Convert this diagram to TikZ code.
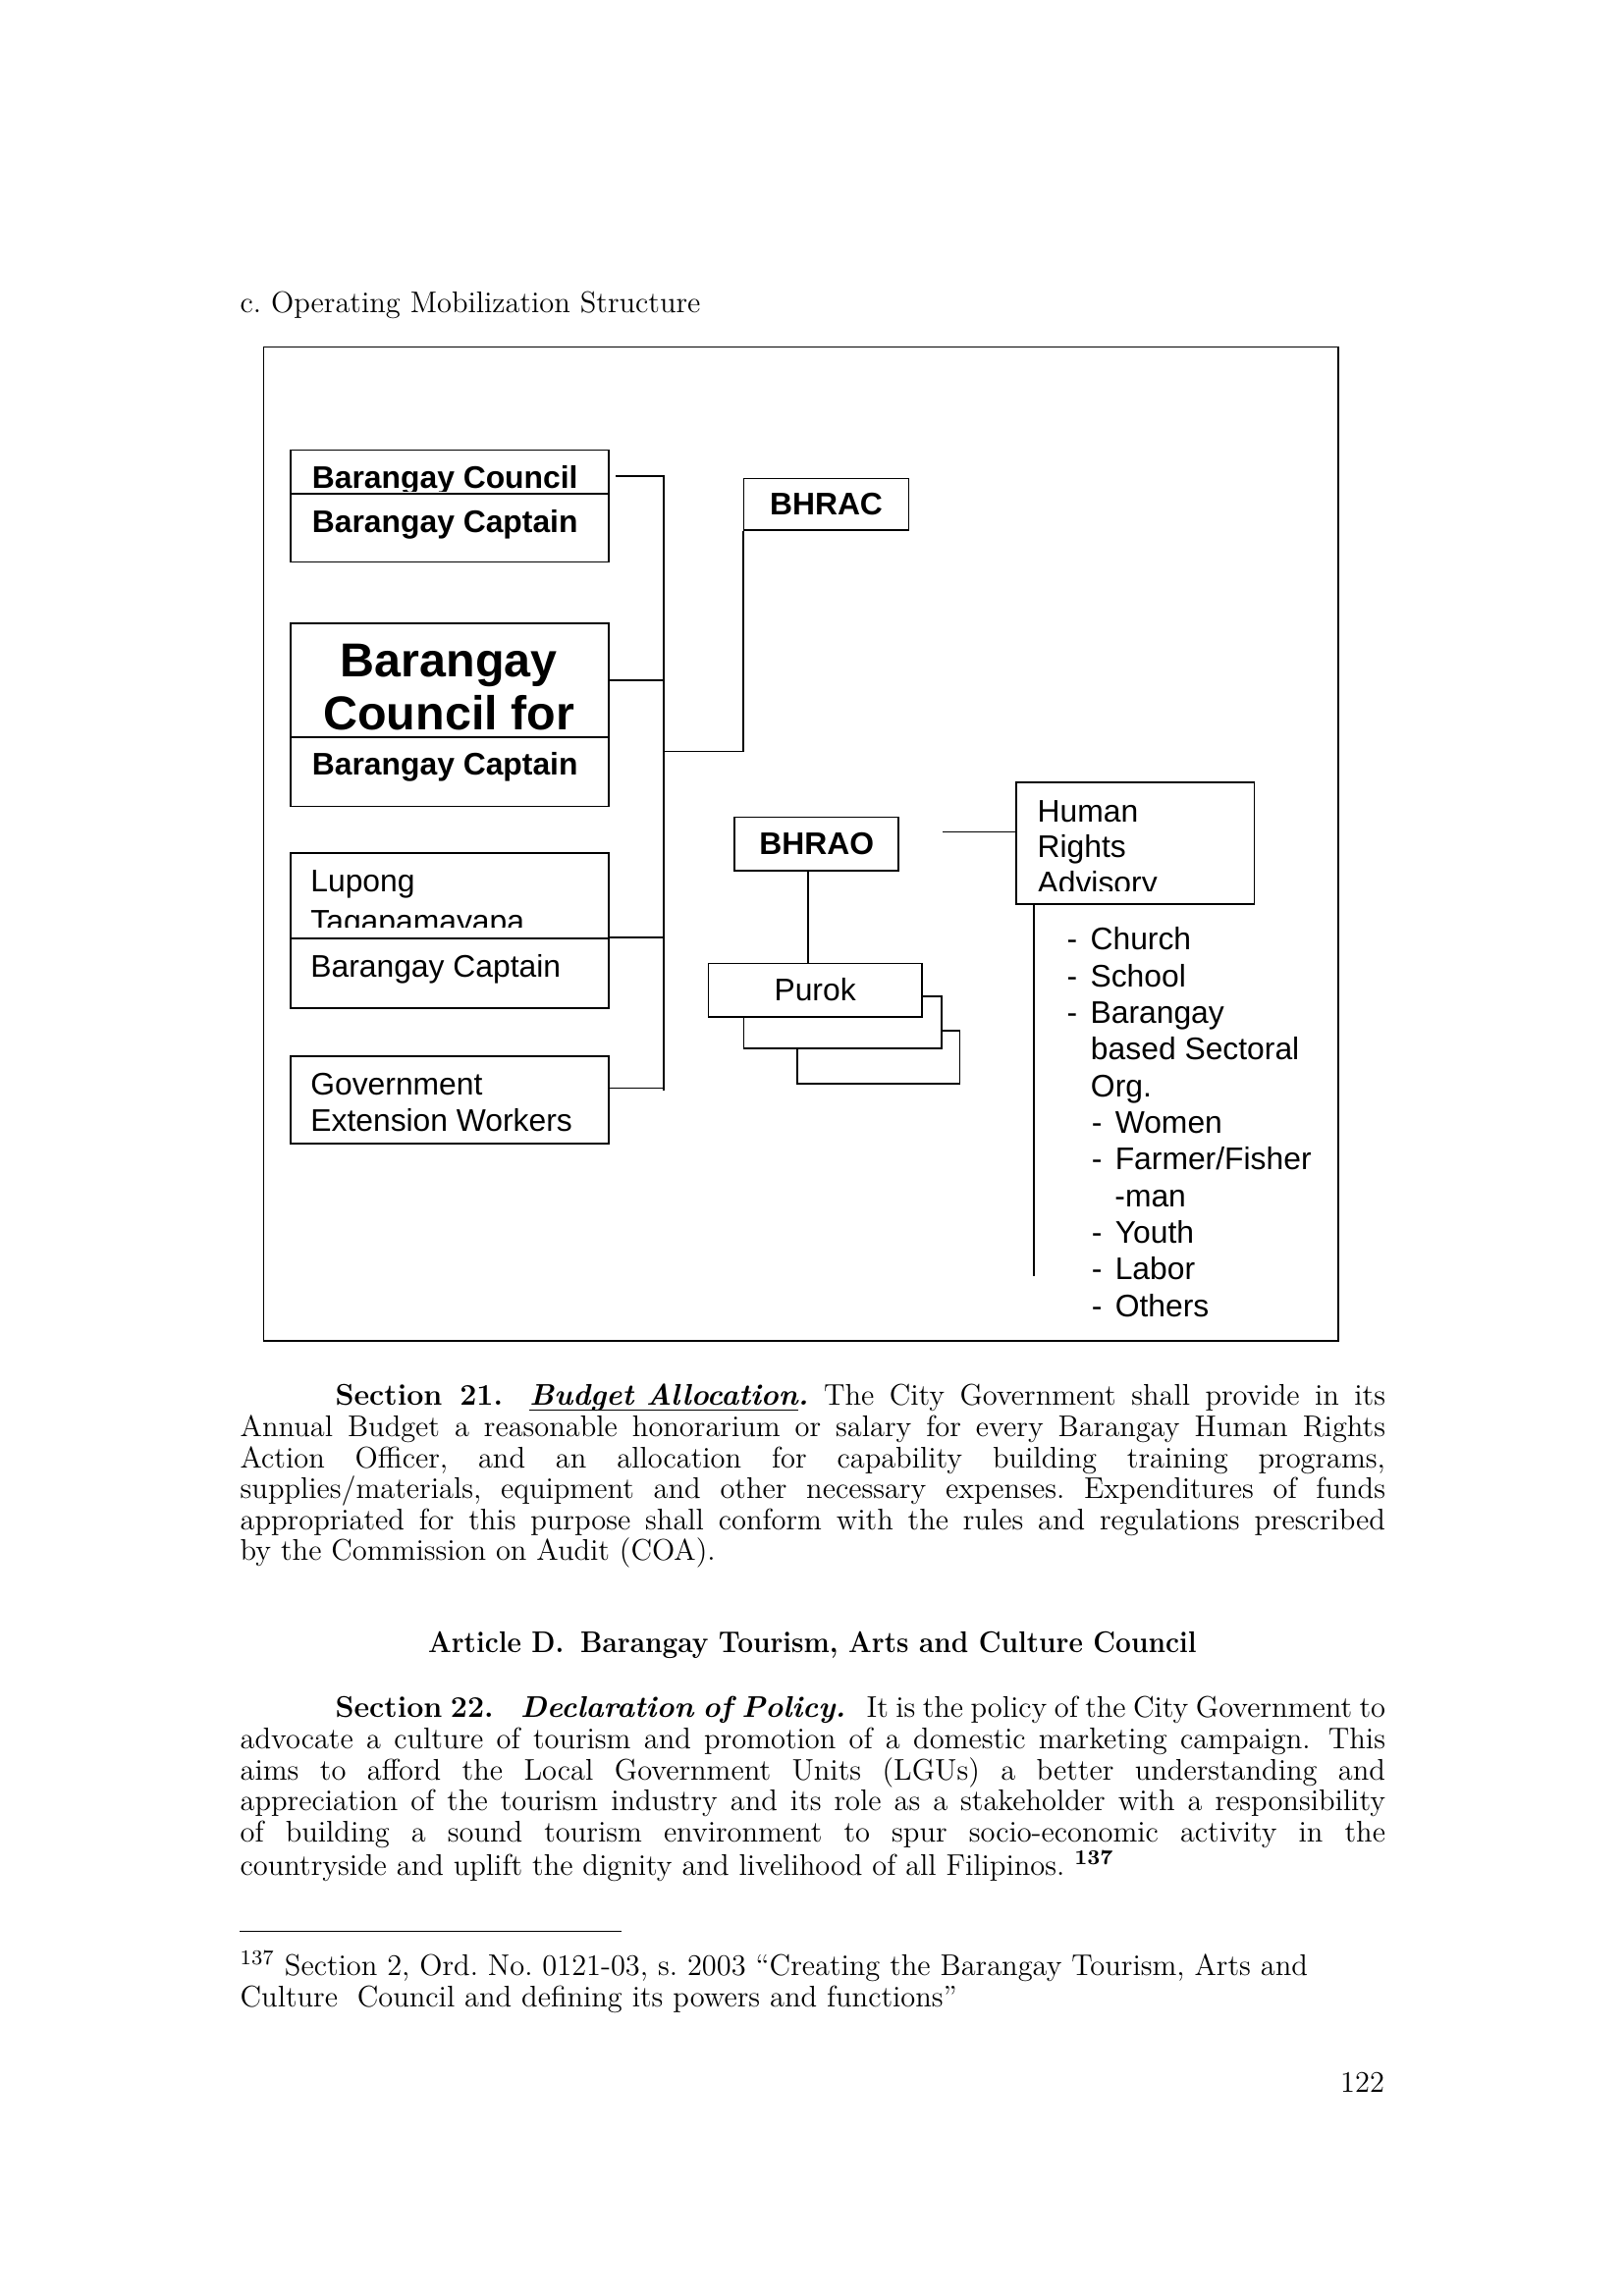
\documentclass[tikz,border=0pt]{standalone}
\usepackage{fontspec}
\usepackage{graphicx}
\newfontfamily\arialfont{Liberation Sans}
\usetikzlibrary{positioning}
\frenchspacing
\newcommand{\itemdash}{\makebox[3.05mm][l]{-}}
\newcommand{\baseul}[1]{{\setbox0\hbox{#1}\rlap{\rule[-0.4ex]{\wd0}{0.5pt}}\box0}}
\tikzset{
  orgbox/.style={rectangle,draw,line width=0.6pt,inner sep=0pt,anchor=north west},
  boxtext/.style={font=\arialfont\fontsize{11.5}{13.3}\selectfont,anchor=base west,inner sep=0pt},
  boldtext/.style={font=\arialfont\bfseries\fontsize{11.5}{13.3}\selectfont,inner sep=0pt},
  bigtext/.style={font=\arialfont\bfseries\fontsize{17.5}{19.5}\selectfont,anchor=base,inner sep=0pt},
  link/.style={draw,line width=0.6pt},
  pagetext/.style={font=\fontsize{11}{11.43}\selectfont,inner sep=0pt},
  para/.style={pagetext,anchor=base west,text width=148.1mm,align=justify}
}
\begin{document}
\begin{tikzpicture}[x=1mm,y=-1mm]
  \useasboundingbox (0,0) rectangle (209.9,297);
  \node[pagetext,anchor=base west] (title) at (31.0,40.5) {c. Operating Mobilization Structure};
  \node[orgbox,minimum width=139mm,minimum height=128.5mm] (frame) at (34.0,44.8) {};

  % left column
  \node[orgbox,minimum width=41.1mm,minimum height=5.65mm] (bcouncilA) at (37.5,58.1) {};
  \node[orgbox,minimum width=41.1mm,minimum height=8.85mm] (bcouncilB) at (37.5,63.75) {};
  \begin{scope}
    \clip (37.5,58.1) rectangle (78.6,63.5);
    \node[boldtext,anchor=base west] (bcouncilT) at (40.3,63.2) {Barangay Council};
  \end{scope}
  \node[boldtext,anchor=base west] (bcaptainA) at (40.3,68.9) {Barangay Captain};

  \node[orgbox,minimum width=41.1mm,minimum height=14.75mm] (bcfA) at (37.5,80.5) {};
  \node[orgbox,minimum width=41.1mm,minimum height=8.95mm] (bcfB) at (37.5,95.25) {};
  \begin{scope}
    \clip (37.5,80.5) rectangle (78.6,95.1);
    \node[bigtext] (bcfT1) at (58.05,87.5) {Barangay};
    \node[bigtext] (bcfT2) at (58.05,94.4) {Council for};
  \end{scope}
  \node[boldtext,anchor=base west] (bcaptainB) at (40.3,100.3) {Barangay Captain};

  \node[orgbox,minimum width=41.1mm,minimum height=11.1mm] (lupongA) at (37.5,110.2) {};
  \node[orgbox,minimum width=41.1mm,minimum height=9.0mm] (lupongB) at (37.5,121.3) {};
  \begin{scope}
    \clip (37.5,110.2) rectangle (78.6,119.9);
    \node[boxtext] (lupongT1) at (40.1,115.4) {Lupong};
    \node[boxtext] (lupongT2) at (40.1,120.6) {Tagapamayapa};
  \end{scope}
  \node[boxtext] (bcaptainC) at (40.1,126.4) {Barangay Captain};

  \node[orgbox,minimum width=41.1mm,minimum height=11.3mm] (gew) at (37.5,136.5) {};
  \node[boxtext] (gewT1) at (40.1,141.7) {Government};
  \node[boxtext] (gewT2) at (40.1,146.3) {Extension Workers};

  % bus
  \coordinate (bustop) at (85.85,61.6);
  \coordinate (busend) at (85.85,141.1);
  \coordinate (bhracjoin) at (85.85,97.2);
  \draw[link] ([xshift=0.8mm]bcouncilA.east |- bustop) -- (bustop) -- (busend);
  \draw[link] (bcfA.east) -- (bcfA.east -| bustop);
  \draw[link] (lupongB.north east) -- (lupongB.north east -| bustop);
  \draw[link] ([yshift=1.5mm]gew.east) -- ([yshift=1.5mm]gew.east -| bustop);

  \node[orgbox,boldtext,minimum width=21.3mm,minimum height=6.7mm] (bhrac) at (96.1,61.8) {BHRAC};
  \draw[link] (bhracjoin) -| (bhrac.south west);

  % middle
  \node[orgbox,boldtext,minimum width=21.2mm,minimum height=6.9mm] (bhrao) at (94.9,105.6) {BHRAO};
  \node[orgbox,fill=white,minimum width=21.0mm,minimum height=6.9mm] (purokC) at (103.0,133.2) {};
  \node[orgbox,fill=white,minimum width=25.6mm,minimum height=6.7mm] (purokB) at (96.1,128.8) {};
  \node[orgbox,fill=white,font=\arialfont\fontsize{11.5}{13.3}\selectfont,minimum width=27.6mm,minimum height=6.9mm] (purokA) at (91.5,124.5) {Purok};
  \draw[link] ([xshift=-1.1mm]bhrao.south) -- ([xshift=-1.1mm]bhrao.south |- purokA.north);

  % right
  \node[orgbox,minimum width=30.8mm,minimum height=15.7mm] (hrab) at (131.3,101.1) {};
  \begin{scope}
    \clip (131.3,101.1) rectangle (162.1,115.2);
    \node[boxtext] (hrabT1) at (134.1,106.3) {Human};
    \node[boxtext] (hrabT2) at (134.1,110.9) {Rights};
    \node[boxtext] (hrabT3) at (134.1,115.6) {Advisory};
  \end{scope}
  \coordinate (hrastub) at (121.9,107.6);
  \coordinate (listend) at (133.7,165.1);
  \draw[link] (hrastub) -- (hrastub -| hrab.west);
  \draw[link] (hrab.south west -| listend) -- (listend);
  \foreach \x/\txt [count=\i from 0] in {137.9/\itemdash Church, 137.9/\itemdash School,
      137.9/\itemdash Barangay, 141.0/based Sectoral, 141.0/Org., 141.1/\itemdash Women,
      141.1/{\itemdash Farmer/Fisher}, 144.1/-man, 141.1/\itemdash Youth,
      141.1/\itemdash Labor, 141.1/\itemdash Others}
    \node[boxtext] (item\i) at (\x,{122.9+4.74*\i}) {\txt};

  % page text
  \node[para] (sec21) at (31.0,181.8) {\hspace*{12.3mm}\textbf{Section 21.}\hspace{0.9em}\textbf{\textit{\baseul{Budget Allocation}.}} The City Government shall provide in its\linebreak
    Annual Budget a reasonable honorarium or salary for every Barangay Human Rights\linebreak
    Action Officer, and an allocation for capability building training programs,\linebreak
    supplies/materials, equipment and other necessary expenses. Expenditures of funds\linebreak
    appropriated for this purpose shall conform with the rules and regulations prescribed\linebreak
    by the Commission on Audit (COA).};
  \node[pagetext,anchor=base] (artD) at (105.05,213.8) {\scalebox{0.92}[1]{\textbf{Article D.\hspace{0.6em}Barangay Tourism, Arts and Culture Council}}};
  \node[para] (sec22) at (31.0,222.2) {\hspace*{12.3mm}\textbf{Section 22.}\hspace{0.9em}\textbf{\textit{Declaration of Policy.}}\hspace{0.7em}It is the policy of the City Government to\linebreak
    advocate a culture of tourism and promotion of a domestic marketing campaign.\hspace{0.6em}This\linebreak
    aims to afford the Local Government Units (LGUs) a better understanding and\linebreak
    appreciation of the tourism industry and its role as a stakeholder with a responsibility\linebreak
    of building a sound tourism environment to spur socio-economic activity in the\linebreak
    countryside and uplift the dignity and livelihood of all Filipinos. \textsuperscript{\textbf{137}}};
  \coordinate (rulestart) at (31.0,249.8);
  \coordinate (ruleend) at (80.4,249.8);
  \draw[line width=0.5pt] (rulestart) -- (ruleend);
  % base anchor sits on the last line here
  \node[pagetext,anchor=base west,align=left] (fn137) at (31.0,259.6) {\textsuperscript{137} Section 2, Ord. No. 0121-03, s. 2003 “Creating the Barangay Tourism, Arts and\\
    Culture\ \ Council and defining its powers and functions”};
  \node[pagetext,anchor=base east] (pageno) at (179.1,270.7) {122};
\end{tikzpicture}
\end{document}
